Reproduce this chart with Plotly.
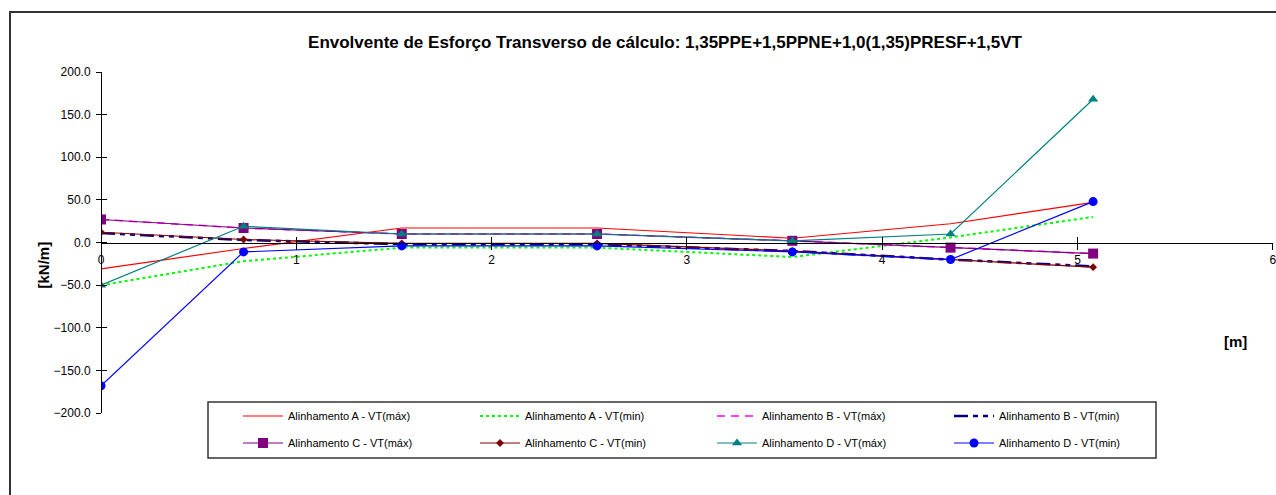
import plotly.graph_objects as go

# Stations along the wall [m]
x_m = [0.0, 0.73, 1.54, 2.54, 3.54, 4.35, 5.08]

# Design shear envelopes [kN/m]
a_max = [-31, -7, 17, 17, 5, 22, 47]
a_min = [-50, -22, -6, -6, -17, 6, 30]
b_max = [27, 17, 10, 10, 2, -6, -13]
b_min = [11, 3, -2, -2, -10, -20, -28]
c_max = [27, 17, 10, 10, 2, -6, -13]
c_min = [12, 3.5, -1, -1, -10, -20, -29]
d_max = [-50, 19, 10, 10, 2, 10, 168]
d_min = [-168, -11, -4, -4, -11, -20, 48]

y_ticks = [-200, -150, -100, -50, 0, 50, 100, 150, 200]
x_ticks = [0, 1, 2, 3, 4, 5, 6]

W, H = 1276, 495
ML, MR, MT, MB = 101, 3, 72, 82
PW, PH = W - ML - MR, H - MT - MB


def px(xp):
    return (xp - ML) / PW


def py(yp):
    return (H - MB - yp) / PH


FONT = "Arial, Liberation Sans, sans-serif"

# (name, values, line style, marker style, legend row)
series = [
    ("Alinhamento A - VT(máx)", a_max, dict(color="#FF0000", width=1.2), None, "legend"),
    ("Alinhamento A - VT(min)", a_min, dict(color="#00FF00", width=2, dash="dot"), None, "legend"),
    ("Alinhamento B - VT(máx)", b_max, dict(color="#FF00FF", width=1.5, dash="8px,6px"), None, "legend"),
    ("Alinhamento B - VT(min)", b_min, dict(color="#000080", width=2.5, dash="14px,5px,5px,5px,5px,5px"), None, "legend"),
    ("Alinhamento C - VT(máx)", c_max, dict(color="#800080", width=1.2), dict(symbol="square", size=10, color="#800080"), "legend2"),
    ("Alinhamento C - VT(min)", c_min, dict(color="#800000", width=1.2), dict(symbol="diamond", size=6, color="#800000"), "legend2"),
    ("Alinhamento D - VT(máx)", d_max, dict(color="#008080", width=1.2), dict(symbol="triangle-up", size=9, color="#008080"), "legend2"),
    ("Alinhamento D - VT(min)", d_min, dict(color="#0000FF", width=1.2), dict(symbol="circle", size=9, color="#0000FF"), "legend2"),
]

fig = go.Figure()
for name, vals, line, marker, leg in series:
    fig.add_trace(go.Scatter(
        x=x_m, y=vals, name=name,
        mode="lines+markers" if marker else "lines",
        line=line, marker=marker, legend=leg,
    ))

# companion axes so the tick marks cross the axis lines
fig.add_trace(go.Scatter(x=[None], y=[None], xaxis="x2", yaxis="y2",
                         showlegend=False, hoverinfo="skip"))

legend_common = dict(
    orientation="h", xanchor="left", yanchor="middle",
    bgcolor="rgba(0,0,0,0)", borderwidth=0,
    entrywidth=182, entrywidthmode="pixels",
    font=dict(family=FONT, size=11, color="black"),
    itemwidth=40,
)

X_RANGE = [0, 6.001]

fig.update_layout(
    width=W, height=H,
    margin=dict(l=ML, r=MR, t=MT, b=MB, autoexpand=False),
    paper_bgcolor="white", plot_bgcolor="white",
    font=dict(family=FONT, size=12, color="black"),
    title=dict(
        text="<b>Envolvente de Esforço Transverso de cálculo: 1,35PPE+1,5PPNE+1,0(1,35)PRESF+1,5VT</b>",
        x=px(665), xanchor="center", xref="paper",
        y=1 - 42 / H, yanchor="middle",
        font=dict(family=FONT, size=17, color="black"),
    ),
    xaxis=dict(
        range=X_RANGE, tickvals=x_ticks, ticks="outside", ticklen=6,
        showline=True, linecolor="black", linewidth=1, tickcolor="black",
        showgrid=False, zeroline=False, anchor="free", position=0.5,
        tickfont=dict(size=12), ticklabeloverflow="allow", automargin=False,
    ),
    yaxis=dict(
        range=[-200, 200], tickvals=y_ticks, tickformat=".1f", ticks="outside", ticklen=5,
        showline=True, linecolor="black", linewidth=1, tickcolor="black",
        showgrid=False, zeroline=False, anchor="free", position=0,
        tickfont=dict(size=12), ticklabelstandoff=3, automargin=False,
    ),
    xaxis2=dict(
        range=X_RANGE, tickvals=x_ticks, ticks="inside", ticklen=6, tickcolor="black",
        showticklabels=False, showline=False, showgrid=False, zeroline=False,
        overlaying="x", anchor="free", position=0.5,
    ),
    yaxis2=dict(
        range=[-200, 200], tickvals=y_ticks, ticks="inside", ticklen=5, tickcolor="black",
        showticklabels=False, showline=False, showgrid=False, zeroline=False,
        overlaying="y", anchor="free", position=0,
    ),
    showlegend=True,
    legend=dict(legend_common, x=px(238), y=py(416)),
    legend2=dict(legend_common, x=px(238), y=py(443)),
    shapes=[
        # outer chart frame
        dict(type="rect", xref="paper", yref="paper",
             x0=px(10), x1=px(1290), y0=py(510), y1=py(12),
             line=dict(color="#333333", width=2), fillcolor="rgba(0,0,0,0)", layer="below"),
        # legend box
        dict(type="rect", xref="paper", yref="paper",
             x0=px(208), x1=px(1156), y0=py(458), y1=py(402),
             line=dict(color="#333333", width=1.5), fillcolor="white", layer="above"),
    ],
    annotations=[
        dict(text="<b>[kN/m]</b>", xref="paper", yref="paper",
             x=px(32), y=py(265), textangle=-90, showarrow=False,
             font=dict(family=FONT, size=15, color="black")),
        dict(text="<b>[m]</b>", xref="paper", yref="paper",
             x=px(1249), y=py(352), showarrow=False,
             font=dict(family=FONT, size=15, color="black")),
    ],
)

fig.write_html("out.html")
